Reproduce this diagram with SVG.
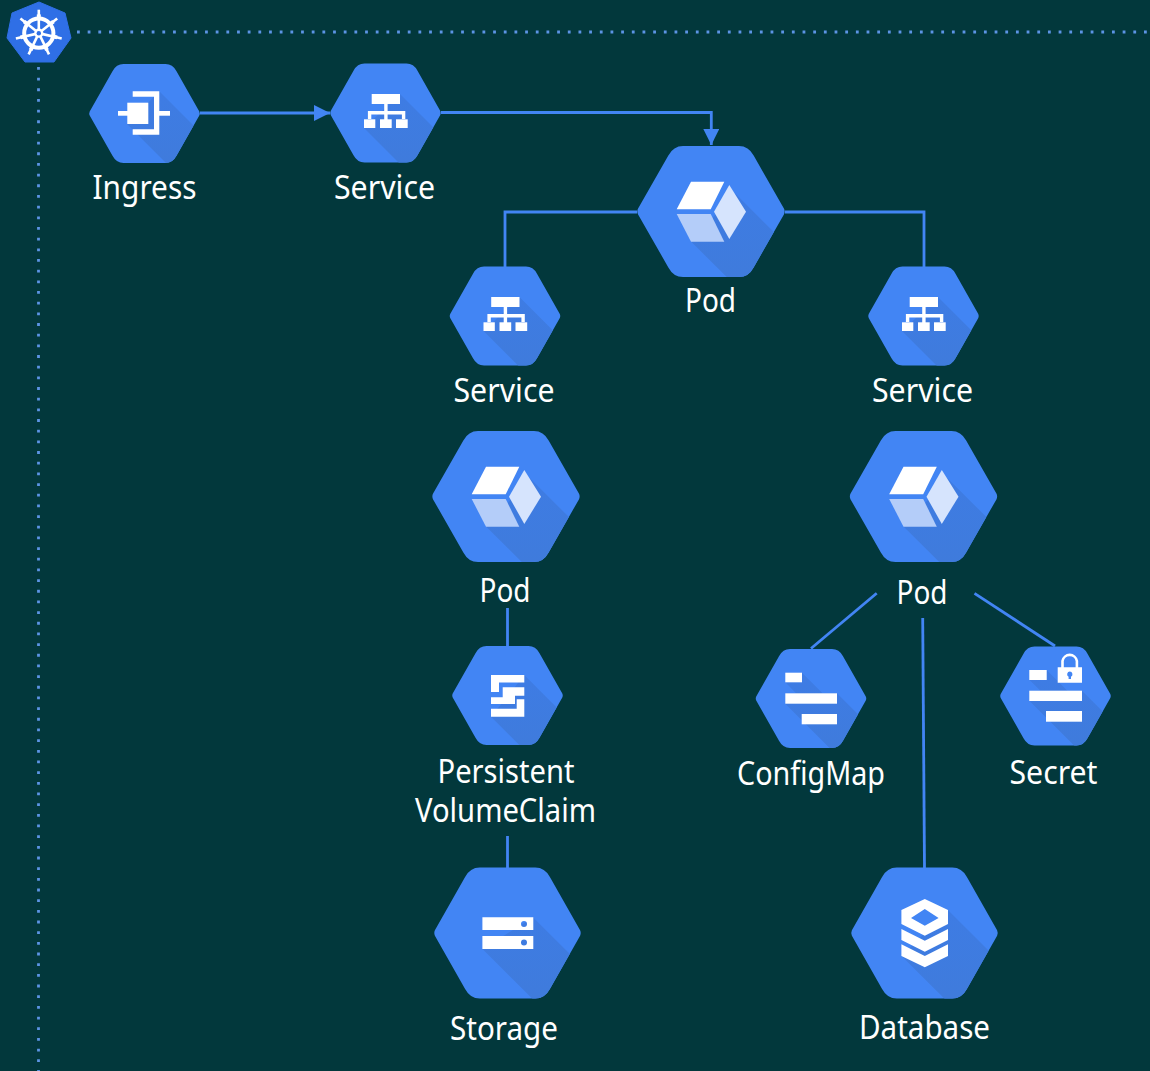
<svg xmlns="http://www.w3.org/2000/svg" width="1150" height="1071" viewBox="0 0 1150 1071">
<style>
.lbl{font-family:"Noto Sans","Open Sans","Liberation Sans",sans-serif;font-size:32px;fill:#fff;text-anchor:middle}
.hex{fill:#4285f4}
.sh{fill:url(#shg)}
.ic{fill:#fff}
.edge{fill:none;stroke:#4285f4;stroke-width:2.8}
.dot{fill:none;stroke:#5c94e4;stroke-width:2.8;stroke-dasharray:2.8 7.87}
</style>
<defs>
<linearGradient id="shg" gradientUnits="userSpaceOnUse" x1="0" y1="-20" x2="0" y2="49.5"><stop offset="0" stop-color="#3e7ce4"/><stop offset="1" stop-color="#3f7bdc"/></linearGradient>
<path id="hexp" d="M-32 -42.3Q-28.2 -49.5 -21 -49.5L21 -49.5Q28.2 -49.5 32 -42.3L54.8 -2Q55.7 0 54.8 2L32 42.3Q28.2 49.5 21 49.5L-21 49.5Q-28.2 49.5 -32 42.3L-54.8 2Q-55.7 0 -54.8 -2Z"/>
<clipPath id="hexc"><use href="#hexp"/></clipPath>
<marker id="arr" viewBox="0 0 16 16" refX="16" refY="8" markerWidth="16" markerHeight="16" markerUnits="userSpaceOnUse" orient="auto"><path d="M0 0L16 8L0 16Z" fill="#4285f4"/></marker>
<g id="svcicon" class="ic">
<rect x="-13.8" y="-19" width="28.3" height="10"/>
<rect x="-1.3" y="-9" width="3.4" height="20"/>
<path d="M-17.6 6V-2H19.8V6H16.4V1.4H-14.2V6Z"/>
<rect x="-21.5" y="6.3" width="11.3" height="8.7"/>
<rect x="-5.5" y="6.3" width="11.7" height="8.7"/>
<rect x="10.5" y="6.3" width="11.7" height="8.7"/>
</g>
<g id="podicon">
<path class="ic" d="M-20 -29.8H13.3L-0.3 -2.2H-34.3Z"/>
<path fill="#d6e4fd" d="M18.3 -26.5L35 0.2L18.3 27.5L3 0.2Z"/>
<path fill="#b4cdf9" d="M-34.3 2.5H-0.3L13.3 30.2H-20Z"/>
</g>
<g id="spoke"><line x1="0" y1="-3" x2="0" y2="-23.5" stroke="#fff" stroke-width="2.6"/><line x1="-2" y1="-17" x2="2" y2="-17" stroke="#fff" stroke-width="3.6"/></g>
</defs>
<rect width="1150" height="1071" fill="#02383c"/>

<g id="connectors">
<path class="edge" d="M200 113H330" marker-end="url(#arr)"/>
<path class="edge" d="M441 112.5H711.3V145" marker-end="url(#arr)"/>
<path class="edge" d="M637 212H505V267"/>
<path class="edge" d="M785 212H924V267"/>
<path class="edge" d="M507.5 608V646"/>
<path class="edge" d="M507.5 836V868"/>
<path class="edge" d="M876.7 593.3L811 648.5"/>
<path class="edge" d="M974.5 593.3L1055 646"/>
<path class="edge" d="M922.7 618L924.5 868"/>
<path class="dot" d="M77 32H1150"/>
<path class="dot" d="M38.5 67V1071"/>
</g>

<g id="logo">
<path d="M39 2L65 13L71 38L54 62H25L7 38L12 13Z" fill="#2f6fe6" stroke="#2f6fe6" stroke-width="1" stroke-linejoin="round"/>
<g transform="translate(38.8 33.2)">
<circle r="14.6" fill="none" stroke="#fff" stroke-width="4"/>
<use href="#spoke"/>
<use href="#spoke" transform="rotate(51.43)"/>
<use href="#spoke" transform="rotate(102.86)"/>
<use href="#spoke" transform="rotate(154.29)"/>
<use href="#spoke" transform="rotate(205.71)"/>
<use href="#spoke" transform="rotate(257.14)"/>
<use href="#spoke" transform="rotate(308.57)"/>
<circle r="4.6" fill="#fff"/>
<circle r="2.2" fill="#2f6fe6"/>
</g>
</g>

<g id="ingress">
<g transform="translate(144.5 113.5)"><use href="#hexp" class="hex"/><polygon class="sh" clip-path="url(#hexc)" points="14.8,-22.2 74.8,37.8 42.5,70.5 -17.5,10.5"/></g>
<g class="ic"><rect x="127.3" y="102.7" width="21" height="21.3"/><rect x="118" y="111" width="10" height="4.7"/><path d="M132.7 91.3H159.3V134.7H132.7V129.3H154V96.7H132.7Z"/><rect x="159" y="111" width="11" height="4.7"/></g>
<text class="lbl" x="144.5" y="199" textLength="104" lengthAdjust="spacingAndGlyphs">Ingress</text>
</g>

<g id="service-1">
<g transform="translate(385.5 113)"><use href="#hexp" class="hex"/><polygon class="sh" clip-path="url(#hexc)" points="14.5,-19 74.5,41 38.5,75 -21.5,15"/><use href="#svcicon"/></g>
<text class="lbl" x="384.5" y="199" textLength="101" lengthAdjust="spacingAndGlyphs">Service</text>
</g>

<g id="pod-top">
<g transform="translate(711 211.5) scale(1.333 1.323)"><use href="#hexp" class="hex"/><polygon class="sh" clip-path="url(#hexc)" points="18,-13.7 78,46.3 45,82.7 -15,22.7"/></g>
<use href="#podicon" transform="translate(711 211.5)"/>
<text class="lbl" x="710.5" y="312" textLength="51" lengthAdjust="spacingAndGlyphs">Pod</text>
</g>

<g id="service-2">
<g transform="translate(505 316)"><use href="#hexp" class="hex"/><polygon class="sh" clip-path="url(#hexc)" points="14.5,-19 74.5,41 38.5,75 -21.5,15"/><use href="#svcicon"/></g>
<text class="lbl" x="504" y="402" textLength="101" lengthAdjust="spacingAndGlyphs">Service</text>
</g>

<g id="service-3">
<g transform="translate(923.5 316)"><use href="#hexp" class="hex"/><polygon class="sh" clip-path="url(#hexc)" points="14.5,-19 74.5,41 38.5,75 -21.5,15"/><use href="#svcicon"/></g>
<text class="lbl" x="922.5" y="402" textLength="101" lengthAdjust="spacingAndGlyphs">Service</text>
</g>

<g id="pod-left">
<g transform="translate(506 496.5) scale(1.333 1.323)"><use href="#hexp" class="hex"/><polygon class="sh" clip-path="url(#hexc)" points="18,-13.7 78,46.3 45,82.7 -15,22.7"/></g>
<use href="#podicon" transform="translate(506 496.5)"/>
<text class="lbl" x="505" y="602" textLength="51" lengthAdjust="spacingAndGlyphs">Pod</text>
</g>

<g id="pod-right">
<g transform="translate(923.5 496.5) scale(1.333 1.323)"><use href="#hexp" class="hex"/><polygon class="sh" clip-path="url(#hexc)" points="18,-13.7 78,46.3 45,82.7 -15,22.7"/></g>
<use href="#podicon" transform="translate(923.5 496.5)"/>
<text class="lbl" x="922" y="604" textLength="51" lengthAdjust="spacingAndGlyphs">Pod</text>
</g>

<g id="pvc">
<g transform="translate(507.5 695.5)"><use href="#hexp" class="hex"/><polygon class="sh" clip-path="url(#hexc)" points="16.8,-20.5 76.8,39.5 43.5,81.2 -16.5,21.2"/></g>
<g class="ic">
<path d="M491 675H524.3V682.5H499V692H491Z"/>
<path d="M502.7 687.3H524.3V695.7H515V704H491V697.3H502.7Z"/>
<path d="M516.7 699.3H524.3V716.7H491V708.7H516.7Z"/>
</g>
<text class="lbl" x="506" y="783" textLength="137" lengthAdjust="spacingAndGlyphs">Persistent</text>
<text class="lbl" x="505.5" y="822" textLength="181" lengthAdjust="spacingAndGlyphs">VolumeClaim</text>
</g>

<g id="configmap">
<g transform="translate(811 698.5)"><use href="#hexp" class="hex"/><polygon class="sh" clip-path="url(#hexc)" points="-9,-25.8 11.6,-5.2 26,-5.2 86,54.8 34.3,65.2 -25.7,5.2 -25.7,-5.2 -15,-5.2 -25.7,-16.2 -9,-16.2"/></g>
<g class="ic"><rect x="785.3" y="672.7" width="16.7" height="9.6"/><rect x="785.3" y="693.3" width="51.7" height="10.4"/><rect x="801.7" y="714" width="35.3" height="10.3"/></g>
<text class="lbl" x="811" y="785" textLength="148" lengthAdjust="spacingAndGlyphs">ConfigMap</text>
</g>

<g id="secret">
<g transform="translate(1055.5 696)"><use href="#hexp" class="hex"/><polygon class="sh" clip-path="url(#hexc)" points="-8.8,-26 11.8,-5.3 26.5,-5.3 86.5,54.7 34.3,65.2 -26,5 -26,-5.3 -15,-5.3 -26,-16 -8.8,-16"/></g>
<g class="ic"><rect x="1029.3" y="670" width="17.4" height="10"/><rect x="1029.3" y="690.7" width="52.7" height="10.3"/><rect x="1046" y="711" width="36" height="10.7"/></g>
<path d="M1062.5 668V661A7.3 7.3 0 0 1 1076.9 661V668" fill="none" stroke="#fff" stroke-width="2.6"/>
<path class="ic" fill-rule="evenodd" d="M1057.7 667.3H1082V682.7H1057.7ZM1069.8 671.6A2.7 2.7 0 0 0 1068.6 676.7V679H1071V676.7A2.7 2.7 0 0 0 1069.8 671.6Z"/>
<text class="lbl" x="1053.5" y="784" textLength="88" lengthAdjust="spacingAndGlyphs">Secret</text>
</g>

<g id="storage">
<g transform="translate(507.5 933) scale(1.325 1.323)"><use href="#hexp" class="hex"/><polygon class="sh" clip-path="url(#hexc)" points="19.4,-11.8 79.4,48.2 41.1,72 -18.9,12"/></g>
<path class="ic" fill-rule="evenodd" d="M482.4 917.3H533.3V930H482.4ZM524 921A2.8 2.8 0 1 0 524 927A2.8 2.8 0 1 0 524 921ZM482.4 936H533.3V949H482.4ZM524 939.6A2.8 2.8 0 1 0 524 945.6A2.8 2.8 0 1 0 524 939.6Z"/>
<text class="lbl" x="504" y="1040" textLength="108" lengthAdjust="spacingAndGlyphs">Storage</text>
</g>

<g id="database">
<g transform="translate(924.5 933) scale(1.325 1.323)"><use href="#hexp" class="hex"/><polygon class="sh" clip-path="url(#hexc)" points="17.7,-17.3 77.7,42.7 42.7,77.3 -17.3,17.3"/></g>
<g class="ic">
<path fill-rule="evenodd" d="M924.8 899L948 910V924L924.8 935.7L901.4 924V910ZM924.8 909L911 918L924.8 925.7L938.6 918Z"/>
<path d="M901.4 929L924.8 940.7L948 929V940L924.8 951.7L901.4 940Z"/>
<path d="M901.4 944.3L924.8 956L948 944.3V956L924.8 967.3L901.4 956Z"/>
</g>
<text class="lbl" x="924.5" y="1039" textLength="131" lengthAdjust="spacingAndGlyphs">Database</text>
</g>
</svg>
